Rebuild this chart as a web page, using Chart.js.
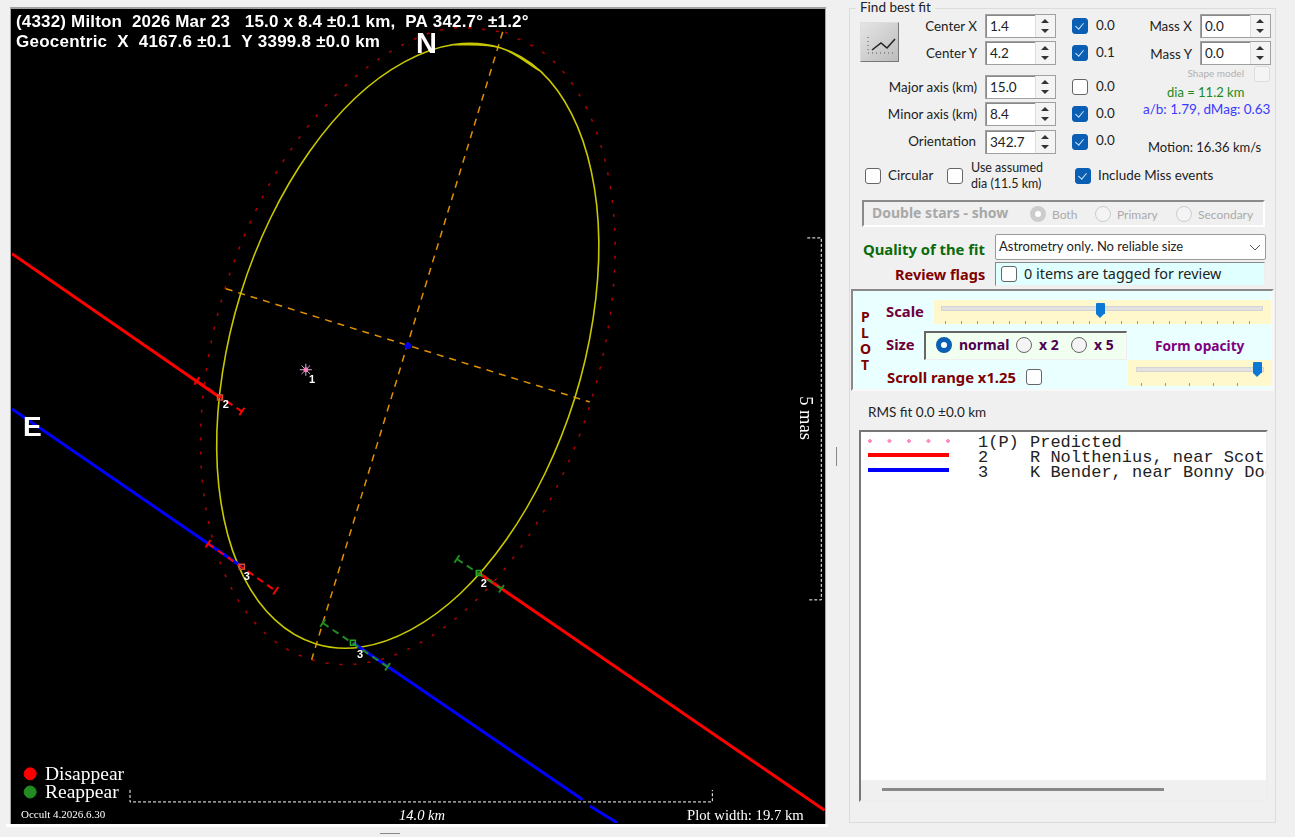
<!DOCTYPE html>
<html>
<head>
<meta charset="utf-8">
<script src="https://cdn.jsdelivr.net/npm/chart.js@4/dist/chart.umd.min.js"></script>
<style>
html,body{margin:0;padding:0;width:1295px;height:837px;overflow:hidden;background:#f0f0f0;font-family:Lato,"Noto Sans",sans-serif;font-size:13.4px;color:#222}
#frame{position:absolute;left:10px;top:7px;width:814px;height:816px;border:1px solid #a8a8a8;border-top:2px solid #a0a0a0;background:#000}
#strip{position:absolute;left:6px;top:824px;width:822px;height:3px;background:#fff}
#lineChart{position:absolute;left:12px;top:9px}
.a{position:absolute;white-space:nowrap;line-height:1}
.r{position:absolute;white-space:nowrap;line-height:1;text-align:right}
.in{position:absolute;width:71px;height:24px;box-sizing:border-box;background:#fff;border:1px solid #a0a0a0;box-shadow:inset 1px 1px 0 #888;font-size:13.5px;padding:3px 0 0 4px;line-height:16px}
.in:after{content:"";position:absolute;right:0;top:0;bottom:0;width:19px;background:#f4f4f4;border-left:1px solid #ddd}
.in i{position:absolute;right:6px;width:0;height:0;border-left:4px solid transparent;border-right:4px solid transparent;z-index:1}
.in i.u{top:4px;border-bottom:4px solid #333}
.in i.d{bottom:4px;border-top:4px solid #333}
.c{position:absolute;width:16px;height:16px;box-sizing:border-box;border:1px solid #666;border-radius:3px;background:#fff}
.c.on{background:#0a5fb4;border-color:#0a5fb4}
.c.on:after{content:"";position:absolute;left:4px;top:2px;width:4px;height:7px;border:solid #cfe3f7;border-width:0 1.5px 1.5px 0;transform:rotate(40deg)}
.c.off{border-color:#ddd;background:#f4f4f4}
.o{position:absolute;width:16px;height:16px;box-sizing:border-box;border:1px solid #666;border-radius:50%;background:#f4f4f4}
.o.on{background:#fff;border:5px solid #0a5fb4}
.o.dis{border-color:#ccc}
.o.dison{background:#fff;border:5px solid #ccc}
.b{font-weight:700;font-family:"Noto Sans",sans-serif}
.track{position:absolute;height:5px;background:#e2e2e2;border:1px solid #d4d4d4;box-sizing:border-box}
.thumb{position:absolute;width:9px;height:11px;background:#0a78d4;border-radius:1px 1px 0 0}
.thumb:after{content:"";position:absolute;left:0;top:11px;border-left:4.5px solid transparent;border-right:4.5px solid transparent;border-top:4px solid #0a78d4}
.tk{position:absolute;height:3px;background:repeating-linear-gradient(90deg,#999 0 1px,transparent 1px 16px)}
</style>
</head>
<body>
<div id="frame"></div>
<div id="strip"></div>
<canvas id="lineChart" width="813" height="814" style="width:813px;height:814px"></canvas>

<!-- splitters -->
<div class="a" style="left:836px;top:447px;width:1px;height:19px;background:#888"></div>
<div class="a" style="left:380px;top:833px;width:20px;height:1px;background:#888"></div>

<!-- Find best fit group -->
<div class="a" style="left:849px;top:8px;width:427px;height:815px;border:1px solid #dcdcdc;box-sizing:border-box"></div>
<div class="a" style="left:856px;top:1px;padding:0 4px;background:#f0f0f0;font-size:13.5px;height:14px">Find best fit</div>
<div class="a" style="left:860px;top:22px;width:39px;height:40px;box-sizing:border-box;background:linear-gradient(135deg,#e4e4e4,#bdbdbd);border:1px solid;border-color:#ddd #777 #777 #ddd">
<svg width="37" height="38" style="display:block"><polyline points="11,27 20,20 26,25 34,16" fill="none" stroke="#222" stroke-width="1.5"/><path d="M7 14V30H34" fill="none" stroke="#555" stroke-dasharray="1 3"/></svg></div>

<div class="r" style="right:318px;top:20px">Center X</div>
<div class="r" style="right:318px;top:47px">Center Y</div>
<div class="r" style="right:318px;top:81px">Major axis (km)</div>
<div class="r" style="right:318px;top:108px">Minor axis (km)</div>
<div class="r" style="right:319px;top:135px">Orientation</div>
<div class="in" style="left:985px;top:14px">1.4<i class="u"></i><i class="d"></i></div>
<div class="in" style="left:985px;top:41px">4.2<i class="u"></i><i class="d"></i></div>
<div class="in" style="left:985px;top:75px">15.0<i class="u"></i><i class="d"></i></div>
<div class="in" style="left:985px;top:102px">8.4<i class="u"></i><i class="d"></i></div>
<div class="in" style="left:985px;top:130px">342.7<i class="u"></i><i class="d"></i></div>
<div class="c on" style="left:1072px;top:18px"></div>
<div class="c on" style="left:1072px;top:45px"></div>
<div class="c" style="left:1072px;top:79px"></div>
<div class="c on" style="left:1072px;top:106px"></div>
<div class="c on" style="left:1072px;top:134px"></div>
<div class="a" style="left:1096px;top:19px">0.0</div>
<div class="a" style="left:1096px;top:46px">0.1</div>
<div class="a" style="left:1096px;top:80px">0.0</div>
<div class="a" style="left:1096px;top:107px">0.0</div>
<div class="a" style="left:1096px;top:134px">0.0</div>
<div class="r" style="right:103px;top:20px">Mass X</div>
<div class="r" style="right:103px;top:48px">Mass Y</div>
<div class="in" style="left:1200px;top:14px">0.0<i class="u"></i><i class="d"></i></div>
<div class="in" style="left:1200px;top:41px">0.0<i class="u"></i><i class="d"></i></div>
<div class="r" style="right:51px;top:68px;font-size:10px;color:#b0b0b0">Shape model</div>
<div class="c off" style="left:1254px;top:66px"></div>
<div class="a" style="left:1167px;top:86px;font-size:13px;color:#1a8a1a">dia = 11.2 km</div>
<div class="a" style="left:1143px;top:103px;font-size:13.5px;color:#3a3aff">a/b: 1.79, dMag: 0.63</div>
<div class="a" style="left:1148px;top:141px;font-size:13px">Motion: 16.36 km/s</div>

<div class="c" style="left:865px;top:168px"></div>
<div class="a" style="left:888px;top:169px">Circular</div>
<div class="c" style="left:947px;top:168px"></div>
<div class="a" style="left:971px;top:162px;font-size:12.5px">Use assumed</div>
<div class="a" style="left:971px;top:178px;font-size:12.5px">dia (11.5 km)</div>
<div class="c on" style="left:1075px;top:168px"></div>
<div class="a" style="left:1098px;top:169px">Include Miss events</div>

<!-- Double stars -->
<div class="a" style="left:862px;top:200px;width:403px;height:27px;box-sizing:border-box;border:2px solid;border-color:#8a8a8a #fff #fff #8a8a8a"></div>
<div class="a b" style="left:872px;top:206px;font-size:14px;color:#a8a8a8">Double stars - show</div>
<div class="o dison" style="left:1030px;top:206px"></div>
<div class="a" style="left:1052px;top:209px;font-size:12px;color:#aaa">Both</div>
<div class="o dis" style="left:1095px;top:206px"></div>
<div class="a" style="left:1117px;top:209px;font-size:12px;color:#aaa">Primary</div>
<div class="o dis" style="left:1176px;top:206px"></div>
<div class="a" style="left:1198px;top:209px;font-size:12px;color:#aaa">Secondary</div>

<!-- Quality -->
<div class="a b" style="left:863px;top:242px;font-size:14.8px;color:#0a6a0a">Quality of the fit</div>
<div class="a" style="left:995px;top:234px;width:271px;height:26px;box-sizing:border-box;background:#fff;border:1px solid #999;border-radius:2px;padding:5px 0 0 3px;font-size:13px">Astrometry only. No reliable size
<svg width="12" height="8" style="position:absolute;right:4px;top:9px"><path d="M1 1L6 6L11 1" fill="none" stroke="#555"/></svg></div>
<div class="a b" style="left:895px;top:267px;font-size:14.5px;color:#800000">Review flags</div>
<div class="a" style="left:995px;top:262px;width:270px;height:24px;box-sizing:border-box;background:#e0ffff;border:1px solid;border-color:#888 #eee #eee #888"></div>
<div class="c" style="left:1001px;top:266px"></div>
<div class="a" style="left:1024px;top:267px;font-size:14.4px;font-family:'Noto Sans'">0 items are tagged for review</div>

<!-- PLOT -->
<div class="a" style="left:851px;top:289px;width:423px;height:102px;box-sizing:border-box;background:#eaffff;border:2px solid;border-color:#8a8a8a #f8f8f8 #f8f8f8 #8a8a8a"></div>
<div class="a b" style="left:861px;top:310px;font-size:14px;color:#800000">P</div>
<div class="a b" style="left:861px;top:326px;font-size:14px;color:#800000">L</div>
<div class="a b" style="left:860px;top:342px;font-size:14px;color:#800000">O</div>
<div class="a b" style="left:861px;top:358px;font-size:14px;color:#800000">T</div>
<div class="a b" style="left:886px;top:304px;font-size:14.8px;color:#70003a">Scale</div>
<div class="a" style="left:934px;top:300px;width:337px;height:24px;background:#fff8cc"></div>
<div class="track" style="left:941px;top:306px;width:322px"></div>
<div class="thumb" style="left:1096px;top:303px"></div>
<div class="tk" style="left:945px;top:321px;width:320px"></div>
<div class="a b" style="left:886px;top:337px;font-size:14.8px;color:#70003a">Size</div>
<div class="a" style="left:924px;top:331px;width:203px;height:29px;box-sizing:border-box;background:#f0fff0;border:1px solid;border-color:#666 #eee #eee #666;border-width:2px 1px 1px 2px"></div>
<div class="o on" style="left:936px;top:337px"></div>
<div class="a b" style="left:959px;top:338px;font-size:14px;color:#500050">normal</div>
<div class="o" style="left:1016px;top:337px"></div>
<div class="a b" style="left:1039px;top:338px;font-size:14px;color:#500050">x 2</div>
<div class="o" style="left:1071px;top:337px"></div>
<div class="a b" style="left:1094px;top:338px;font-size:14px;color:#500050">x 5</div>
<div class="a b" style="left:1155px;top:339px;font-size:13.7px;color:#800080">Form opacity</div>
<div class="a" style="left:1128px;top:360px;width:144px;height:26px;background:#fff8cc"></div>
<div class="track" style="left:1136px;top:367px;width:128px"></div>
<div class="thumb" style="left:1253px;top:362px"></div>
<div class="tk" style="left:1141px;top:383px;width:120px;background:repeating-linear-gradient(90deg,#999 0 1px,transparent 1px 24px)"></div>
<div class="a b" style="left:887px;top:370px;font-size:14.8px;color:#800000">Scroll range x1.25</div>
<div class="c" style="left:1026px;top:369px"></div>

<div class="a" style="left:868px;top:406px;font-size:13.5px">RMS fit 0.0 ±0.0 km</div>

<!-- list box -->
<div class="a" style="left:859px;top:430px;width:409px;height:372px;box-sizing:border-box;background:#fff;border:2px solid;border-color:#777 #eee #eee #777;overflow:hidden;font-family:'Liberation Mono',monospace;font-size:17px">
  <div class="a" style="left:7px;top:7px;width:84px;height:4px;background:radial-gradient(circle at 2px 2px,#ff8ac0 1.7px,transparent 2px) 0 0/19.5px 4px repeat-x"></div>
  <div class="a" style="left:7px;top:21px;width:81px;height:4px;background:#f00"></div>
  <div class="a" style="left:7px;top:36px;width:81px;height:4px;background:#00f"></div>
  <div class="a" style="left:117px;top:2px">1(P)</div>
  <div class="a" style="left:169px;top:2px">Predicted</div>
  <div class="a" style="left:117px;top:17px">2</div>
  <div class="a" style="left:169px;top:17px">R Nolthenius, near Scott</div>
  <div class="a" style="left:117px;top:32px">3</div>
  <div class="a" style="left:169px;top:32px">K Bender, near Bonny Doon</div>
  <div class="a" style="left:0;top:348px;width:407px;height:22px;background:#f0f0f0"></div>
  <div class="a" style="left:21px;top:356px;width:282px;height:3px;background:#888"></div>
</div>

<script>
// all positions in km, x from the left of the plot, y from the bottom of it
const plotWidth = 19.7;

// the fit outline runs a little past its start so the join does not show
const fitX = [10.63,10.71,11.83,12.81,13.56,14.04,14.22,14.08,13.64,12.92,11.98,10.87,9.67,8.47,7.35,6.38,5.62,5.14,4.96,5.10,5.54,6.26,7.21,8.31,9.51,10.71,11.83,12.81,12.87];
const fitY = [18.83,18.84,18.76,18.19,17.16,15.76,14.07,12.20,10.29,8.47,6.86,5.56,4.68,4.26,4.34,4.91,5.94,7.34,9.04,10.90,12.81,14.63,16.25,17.54,18.42,18.84,18.76,18.19,18.14];
const limitX = [11.95,13.02,13.85,14.39,14.61,14.48,14.02,13.26,12.25,11.05,9.76,8.46,7.23,6.16,5.33,4.79,4.57,4.70,5.16,5.92,6.93,8.13,9.42,10.65,11.95];
const limitY = [19.14,18.53,17.44,15.94,14.15,12.19,10.17,8.25,6.56,5.21,4.29,3.86,3.96,4.57,5.66,7.16,8.95,10.91,12.93,14.85,16.54,17.89,18.81,19.24,19.14];
const majorX = [11.89,7.26];
const majorY = [19.15,3.95];
const minorX = [5.18,14.0];
const minorY = [12.93,10.19];

const chord2X = [0,5.04];
const chord2Y = [13.78,10.30];
const chord2bX = [11.31,19.69];
const chord2bY = [6.05,0.31];
const chord3X = [0,5.57];
const chord3Y = [10.02,6.20];
const chord3bX = [8.26,13.83,null,14.0,14.67];
const chord3bY = [4.36,0.56,null,0.41,0];

const errD2X = [4.48,5.57];
const errD2Y = [10.70,9.96];
const errR2X = [10.78,11.86];
const errR2Y = [6.39,5.67];
const errD3X = [4.75,6.39];
const errD3Y = [6.76,5.62];
const errR3X = [7.53,9.10];
const errR3Y = [4.84,3.78];

const contactDX = [5.04,5.57];
const contactDY = [10.30,6.20];
const contactRX = [11.31,8.26];
const contactRY = [6.05,4.36];

const centreX = [9.59];
const centreY = [11.55];
const predictedX = [7.12];
const predictedY = [10.97];

const scaleBarX = [2.86,2.86,16.97,16.97];
const scaleBarY = [0.80,0.51,0.51,0.80];
const sideBarX = [19.27,19.61,19.61,19.27];
const sideBarY = [14.16,14.16,5.40,5.40];
const keyX = [0.44];
const keyDY = [1.19];
const keyRY = [0.75];

const chordLabels = ["1","2","3","2","3"];
const chordLabelX = [7.27,5.18,5.69,11.43,8.43];
const chordLabelY = [10.75,10.13,5.98,5.81,4.10];

const title1 = "(4332) Milton  2026 Mar 23   15.0 x 8.4 ±0.1 km,  PA 342.7° ±1.2°";
const title2 = "Geocentric  X  4167.6 ±0.1  Y 3399.8 ±0.0 km";

function pts(xs, ys) {
    return xs.map((x, i) => x === null ? {x: NaN, y: NaN} : {x: x, y: ys[i]});
}
function line(xs, ys, color, width, dash, tension) {
    return {data: pts(xs, ys), showLine: true, borderColor: color, borderWidth: width,
            borderDash: dash || [], tension: tension || 0, pointRadius: 0, spanGaps: false};
}
function marks(xs, ys, style, size, color, fill, rot, width) {
    return {data: pts(xs, ys), showLine: false, pointStyle: style, pointRadius: size, pointBorderColor: color,
            pointBackgroundColor: fill, pointRotation: rot || 0, pointBorderWidth: width || 1};
}

const CHART = document.getElementById("lineChart");

const textLayer = {
    id: "textLayer",
    afterDatasetsDraw(chart) {
        const c = chart.ctx, sx = chart.scales.x, sy = chart.scales.y;
        c.save();
        c.textBaseline = "alphabetic";
        c.fillStyle = "#fff";
        c.font = "bold 17px 'Liberation Sans'";
        c.letterSpacing = "0.17px";
        c.fillText(title1, 4, 18);
        c.letterSpacing = "0.25px";
        c.fillText(title2, 4, 38);
        c.letterSpacing = "0px";
        c.font = "bold 29px 'Liberation Sans'";
        c.fillText("N", 404, 44);
        c.font = "bold 28px 'Liberation Sans'";
        c.fillText("E", 11, 427);
        c.font = "19.5px 'Liberation Serif'";
        c.fillText("Disappear", 33, 771);
        c.fillText("Reappear", 33, 789);
        c.font = "11px 'Liberation Serif'";
        c.fillText("Occult 4.2026.6.30", 9, 809);
        c.font = "italic 14.5px 'Liberation Serif'";
        c.fillText("14.0 km", 387, 811);
        c.font = "14.7px 'Liberation Serif'";
        c.fillText("Plot width: 19.7 km", 675, 811);
        c.font = "bold 11px 'Liberation Sans'";
        chordLabels.forEach((t, i) => {
            c.fillText(t, sx.getPixelForValue(chordLabelX[i]) - 3, sy.getPixelForValue(chordLabelY[i]) + 4);
        });
        c.translate(788, 409);
        c.rotate(Math.PI / 2);
        c.font = "18.5px 'Liberation Serif'";
        c.textAlign = "center";
        c.fillText("5 mas", 0, 0);
        c.restore();
    }
};

let lineChart = new Chart(CHART, {
    type: "scatter",
    data: {
        datasets: [
            marks(contactRX, contactRY, "rect", 3.5, "#22aa22", "rgba(0,0,0,0)", 0, 1.5),
            marks(contactDX, contactDY, "rect", 3.5, "#d05030", "rgba(0,0,0,0)", 0, 1.5),
            marks(centreX, centreY, "circle", 3, "#0000e0", "#0000e0"),
            marks(predictedX, predictedY, "circle", 2, "#ff80c0", "#ff80c0"),
            marks(predictedX, predictedY, "star", 6, "#d8b0d8", "#ff80c0", 0, 1),
            marks(errD2X, errD2Y, "line", 4.5, "#ff0000", "#ff0000", 124, 2),
            marks(errD3X, errD3Y, "line", 4.5, "#ff0000", "#ff0000", 124, 2),
            marks(errR2X, errR2Y, "line", 4.5, "#228b22", "#228b22", 124, 2),
            marks(errR3X, errR3Y, "line", 4.5, "#228b22", "#228b22", 124, 2),
            line(errD2X, errD2Y, "#ff0000", 2, [7, 5]),
            line(errD3X, errD3Y, "#ff0000", 2, [7, 5]),
            line(errR2X, errR2Y, "#228b22", 2, [7, 5]),
            line(errR3X, errR3Y, "#228b22", 2, [7, 5]),
            line(chord2X, chord2Y, "#ff0000", 3),
            line(chord2bX, chord2bY, "#ff0000", 3),
            line(chord3X, chord3Y, "#0000ff", 3),
            line(chord3bX, chord3bY, "#0000ff", 3),
            line(scaleBarX, scaleBarY, "#ffffff", 1, [3, 2]),
            line(sideBarX, sideBarY, "#ffffff", 1, [3, 2]),
            line(fitX, fitY, "#c8c800", 1.6, [], 0.34),
            line(majorX, majorY, "#e09000", 1.5, [7, 6]),
            line(minorX, minorY, "#e09000", 1.5, [7, 6]),
            line(limitX, limitY, "#b00000", 1.5, [3, 11], 0.34),
            marks(keyX, keyDY, "circle", 6, "#ff0000", "#ff0000"),
            marks(keyX, keyRY, "circle", 6, "#228b22", "#228b22")
        ]
    },
    options: {
        responsive: false,
        animation: false,
        devicePixelRatio: 1,
        layout: {padding: 0, autoPadding: false},
        plugins: {legend: {display: false}, tooltip: {enabled: false}},
        scales: {
            x: {type: "linear", display: false, min: 0, max: plotWidth},
            y: {type: "linear", display: false, min: 0, max: plotWidth}
        }
    },
    plugins: [textLayer]
});
</script>
</body>
</html>
